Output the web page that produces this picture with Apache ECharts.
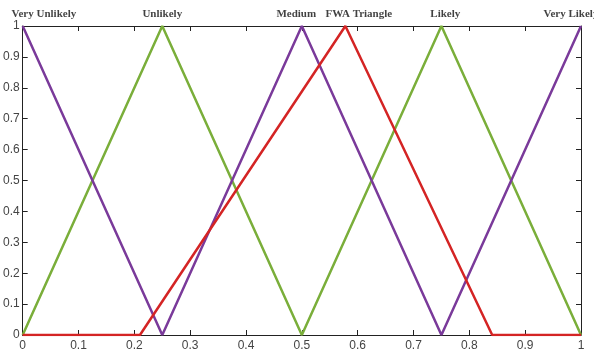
<!DOCTYPE html>
<html><head><meta charset="utf-8">
<script src="https://cdn.jsdelivr.net/npm/echarts@6/dist/echarts.min.js"></script>
<style>html,body{margin:0;padding:0;background:#fff}#c{width:594px;height:356px}</style>
</head><body><div id="c"></div>
<script>
const purpleX = [0, 0.25, 0.5, 0.75, 1];
const purpleY = [1, 0, 1, 0, 1];
const greenX = [0, 0.25, 0.5, 0.75, 1];
const greenY = [0, 1, 0, 1, 0];
const redX = [0, 0.21, 0.578, 0.841, 1];
const redY = [0, 0, 1, 0, 0];
const labelNames = ['Very Unlikely', 'Unlikely', 'Medium', 'FWA Triangle', 'Likely', 'Very Likely'];
const labelX = [0.038, 0.25, 0.49, 0.602, 0.757, 0.982];
const xTicks = [0, 0.1, 0.2, 0.3, 0.4, 0.5, 0.6, 0.7, 0.8, 0.9, 1];
const yTicks = [0, 0.1, 0.2, 0.3, 0.4, 0.5, 0.6, 0.7, 0.8, 0.9, 1];

const pairs = (xs, ys) => xs.map((x, i) => [x, ys[i]]);
const fmt = v => String(Math.round(v * 10) / 10);
const axisCommon = {
  type: 'value', min: 0, max: 1, interval: 0.1,
  axisLine: { show: true, onZero: false, lineStyle: { color: '#222', width: 1 } },
  axisTick: { show: true, inside: true, length: 5, lineStyle: { color: '#222' } },
  splitLine: { show: false }
};
const chart = echarts.init(document.getElementById('c'));
chart.setOption({
  animation: false,
  grid: { left: 21, right: 13, top: 26, bottom: 21, containLabel: false },
  xAxis: [
    Object.assign({}, axisCommon, { position: 'bottom',
      axisLabel: { color: '#444', fontFamily: 'Arial, Liberation Sans', fontSize: 12, margin: 5, formatter: fmt } }),
    Object.assign({}, axisCommon, { position: 'top', axisLabel: { show: false } })
  ],
  yAxis: [
    Object.assign({}, axisCommon, { position: 'left',
      axisLabel: { color: '#444', fontFamily: 'Arial, Liberation Sans', fontSize: 12, margin: 3, formatter: fmt } }),
    Object.assign({}, axisCommon, { position: 'right', axisLabel: { show: false } })
  ],
  series: [
    { type: 'line', data: pairs(greenX, greenY), symbol: 'none', lineStyle: { color: '#7AAE3A', width: 2.5 }, z: 2 },
    { type: 'line', data: pairs(purpleX, purpleY), symbol: 'none', lineStyle: { color: '#7A3A9A', width: 2.5 }, z: 3 },
    { type: 'line', data: pairs(redX, redY), symbol: 'none', lineStyle: { color: '#D42424', width: 2.5 }, z: 4 },
    { type: 'scatter', data: labelX.map((x, i) => ({ value: [x, 1], name: labelNames[i] })),
      symbolSize: 0, silent: true, z: 5,
      label: { show: true, position: 'top', distance: 6, formatter: p => p.name,
        fontFamily: 'Times New Roman, Liberation Serif, serif', fontWeight: 'bold', fontSize: 11, color: '#111' } }
  ]
});
</script></body></html>
